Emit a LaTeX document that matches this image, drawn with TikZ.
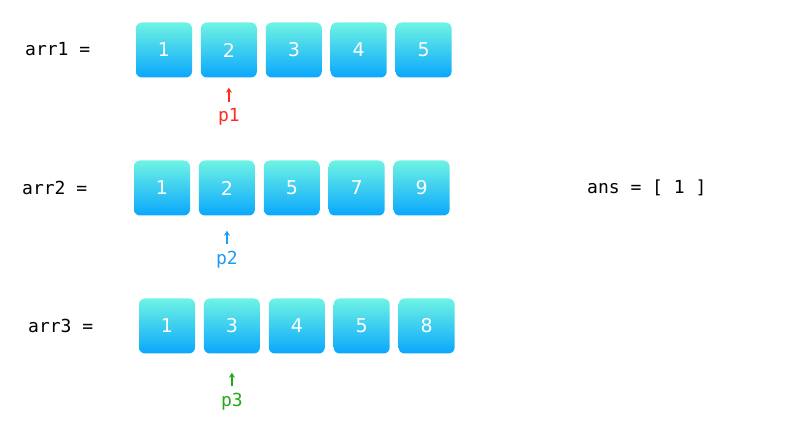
\documentclass[tikz,border=0pt]{standalone}
\usepackage{fontspec}
\setsansfont{DejaVu Sans}
\setmonofont{DejaVu Sans Mono}
\usepackage{tikz}
\usetikzlibrary{positioning, arrows.meta}

\definecolor{celltop}{HTML}{6EF3E4}
\definecolor{cellbot}{HTML}{0AA7FC}
\definecolor{pred}{HTML}{FF2B1F}
\definecolor{pblue}{HTML}{1E9BF3}
\definecolor{pgreen}{HTML}{23A818}

\begin{document}
\begin{tikzpicture}[
    x=1pt, y=-1pt,
    cell/.style={
        rectangle,
        rounded corners=6pt,
        minimum width=56pt,
        minimum height=55pt,
        inner sep=0pt,
        top color=celltop,
        bottom color=cellbot,
        text=white,
        font=\sffamily\fontsize{19}{19}\selectfont
    },
    code/.style={anchor=west, inner sep=0pt, font=\ttfamily\fontsize{18}{18}\selectfont},
    ptrname/.style={anchor=base, inner sep=0pt, font=\ttfamily\fontsize{18}{18}\selectfont},
    ptr/.style={-{Stealth[length=5pt, width=6pt]}, line width=1.3pt}
]
\useasboundingbox (0,0) rectangle (809,427);

% arr1
\node[code] (arr1) at (25,49) {arr1 =};
\node[cell] (a11) at (164,50) {1};
\node[cell, right=8.5pt of a11] (a12) {2};
\node[cell, right=8.5pt of a12] (a13) {3};
\node[cell, right=8.5pt of a13] (a14) {4};
\node[cell, right=8.5pt of a14] (a15) {5};

% arr2
\node[code] (arr2) at (22,188) {arr2 =};
\node[cell] (a21) at (162,188) {1};
\node[cell, right=8.5pt of a21] (a22) {2};
\node[cell, right=8.5pt of a22] (a23) {5};
\node[cell, right=8.5pt of a23] (a24) {7};
\node[cell, right=8.5pt of a24] (a25) {9};

% arr3
\node[code] (arr3) at (28,326) {arr3 =};
\node[cell] (a31) at (167,326) {1};
\node[cell, right=8.5pt of a31] (a32) {3};
\node[cell, right=8.5pt of a32] (a33) {4};
\node[cell, right=8.5pt of a33] (a34) {5};
\node[cell, right=8.5pt of a34] (a35) {8};

\node[code] (ans) at (587,188) {ans = [ 1 ]};

% pointers
\node[ptrname, text=pred] (p1) at (a12.center |- 0,122) {p1};
\node[ptrname, text=pblue] (p2) at (a22.center |- 0,265) {p2};
\node[ptrname, text=pgreen] (p3) at (a32.center |- 0,407) {p3};

\draw[ptr, pred, shorten <=7pt, shorten >=10pt] (p1.north) -- (a12.south);
\draw[ptr, pblue, shorten <=7pt, shorten >=15pt] (p2.north) -- (a22.south);
\draw[ptr, pgreen, shorten <=7pt, shorten >=19pt] (p3.north) -- (a32.south);

\end{tikzpicture}
\end{document}
